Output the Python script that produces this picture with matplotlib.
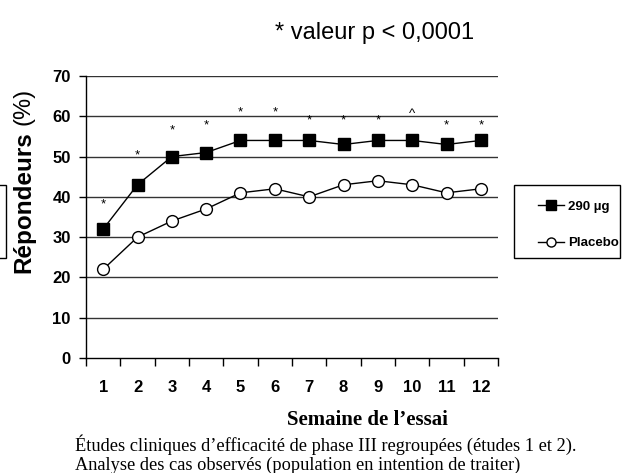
import numpy as np
import matplotlib.pyplot as plt
from matplotlib.patches import Rectangle
from matplotlib.lines import Line2D

semaines = [1, 2, 3, 4, 5, 6, 7, 8, 9, 10, 11, 12]
dose_290 = [32, 43, 50, 51, 54, 54, 54, 53, 54, 54, 53, 54]
placebo = [22, 30, 34, 37, 41, 42, 40, 43, 44, 43, 41, 42]
etoile_y = [38.2, 50.2, 56.5, 57.7, 61, 61, 59, 59, 59, 60.5, 57.7, 57.7]
etoile_txt = ["*"] * 9 + ["^"] + ["*"] * 2
yticks = [0, 10, 20, 30, 40, 50, 60, 70]

W, H = 622, 473
fig = plt.figure(figsize=(W / 100, H / 100), dpi=100)
ax = fig.add_axes([86 / W, 1 - 358 / H, (498 - 86) / W, (358 - 76) / H])

sans = "Liberation Sans"
serif = "Liberation Serif"

for v in yticks[1:]:
    ax.axhline(v, color="#333333", lw=1, zorder=1)

ax.plot(semaines, dose_290, color="black", lw=1, marker="s", ms=8.5,
        mfc="black", mec="black", zorder=3)
ax.plot(semaines, placebo, color="black", lw=1, marker="o", ms=8.5,
        mfc="white", mec="black", mew=1, zorder=3)

for x, y, t in zip(semaines, etoile_y, etoile_txt):
    ax.text(x, y, t, ha="center", va="center", fontsize=9.5, family=sans)

ax.set_xlim(0.5, 12.5)
ax.set_ylim(0, 70)
ax.set_yticks(yticks)
ax.set_yticklabels([str(v) for v in yticks], fontsize=12, fontweight="bold", family=sans)
ax.set_xticks(np.arange(0.5, 13, 1))
ax.set_xticklabels([])
ax.set_xticks(semaines, minor=True)
ax.set_xticklabels([str(s) for s in semaines], minor=True, fontsize=12,
                   fontweight="bold", family=sans)
ax.tick_params(axis="x", which="major", direction="out", length=6, width=1, color="black")
ax.tick_params(axis="x", which="minor", length=0, pad=16)
ax.tick_params(axis="y", direction="out", length=5, width=1, pad=6)
for s in ["top", "right"]:
    ax.spines[s].set_visible(False)
ax.spines["left"].set_linewidth(1)
ax.spines["bottom"].set_linewidth(1)

fig.text(375 / W, 1 - 33 / H, "* valeur p < 0,0001", ha="center", va="center",
         fontsize=17, family=sans)

fig.text(24 / W, 1 - 202 / H, "Répondeurs", rotation=90, ha="center", va="center",
         fontsize=17.5, fontweight="bold", family=sans)
fig.text(24 / W, 1 - 106 / H, "(%)", rotation=90, ha="center", va="center",
         fontsize=17, family=sans)

fig.text(367 / W, 1 - 420 / H, "Semaine de l\u2019essai", ha="center", va="center",
         fontsize=15, fontweight="bold", family=serif)
fig.text(75 / W, 1 - 445 / H,
         "\u00c9tudes cliniques d\u2019efficacit\u00e9 de phase III regroup\u00e9es (\u00e9tudes 1 et 2).",
         ha="left", va="center", fontsize=13.2, family=serif)
fig.text(75 / W, 1 - 465 / H,
         "Analyse des cas observ\u00e9s (population en intention de traiter)",
         ha="left", va="center", fontsize=13.2, family=serif)

fig.patches.append(Rectangle((514 / W, 1 - 258 / H), 106 / W, 73 / H, fill=False,
                             ec="black", lw=1, transform=fig.transFigure))
fig.patches.append(Rectangle((-100 / W, 1 - 258 / H), 106 / W, 73 / H, fill=False,
                             ec="black", lw=1, transform=fig.transFigure))

h1 = Line2D([], [], color="black", lw=1, marker="s", ms=6.5, mfc="black", mec="black")
h2 = Line2D([], [], color="black", lw=1, marker="o", ms=6.5, mfc="white", mec="black")
fig.legend([h1, h2], ["290 \u00b5g", "Placebo"], loc="center left",
           bbox_to_anchor=(531 / W, 1 - 225 / H), frameon=False,
           prop={"family": sans, "weight": "bold", "size": 9.5},
           handlelength=2.0, handletextpad=0.3, labelspacing=1.85, borderpad=0)

fig.savefig("out.png", dpi=100)
